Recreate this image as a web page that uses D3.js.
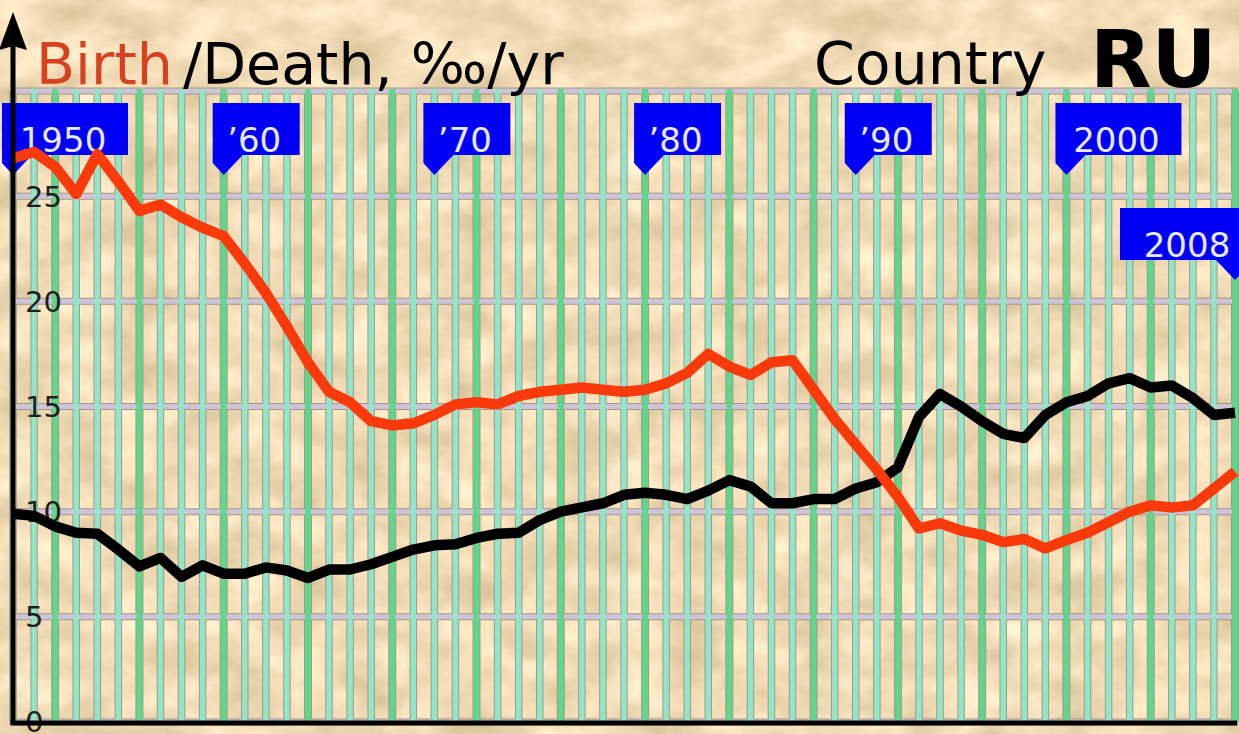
<!DOCTYPE html>
<html>
<head>
<meta charset="utf-8">
<script src="https://cdn.jsdelivr.net/npm/d3@7"></script>
<style>
  html, body { margin: 0; padding: 0; background: #f0dcb4; overflow: hidden; }
  svg { display: block; font-family: "DejaVu Sans", sans-serif; }
</style>
</head>
<body>
<svg id="chart" width="1239" height="734"></svg>
<script>
// Russia: crude birth and death rates, per 1000 population per year
const years = d3.range(1950, 2009);
const birthRate = [
  26.8, 27.1, 26.4, 25.1, 27.0, 25.7, 24.3, 24.6, 24.0, 23.5,
  23.1, 21.8, 20.4, 18.8, 17.1, 15.7, 15.2, 14.3, 14.1, 14.2,
  14.6, 15.1, 15.2, 15.1, 15.5, 15.7, 15.8, 15.9, 15.8, 15.7,
  15.8, 16.1, 16.6, 17.5, 16.9, 16.5, 17.1, 17.2, 15.8, 14.4,
  13.2, 12.0, 10.7, 9.2, 9.45, 9.1, 8.9, 8.55, 8.7, 8.25,
  8.65, 9.0, 9.5, 10.0, 10.3, 10.2, 10.3, 11.1, 11.9
];
const deathRate = [
  9.9, 9.8, 9.3, 9.0, 8.95, 8.2, 7.4, 7.8, 6.9, 7.45,
  7.05, 7.05, 7.35, 7.2, 6.85, 7.25, 7.25, 7.5, 7.85, 8.2,
  8.4, 8.45, 8.75, 8.95, 9.0, 9.6, 10.0, 10.2, 10.4, 10.8,
  10.9, 10.8, 10.6, 11.0, 11.5, 11.2, 10.4, 10.4, 10.6, 10.6,
  11.1, 11.4, 12.1, 14.5, 15.6, 15.0, 14.3, 13.7, 13.5, 14.6,
  15.2, 15.5, 16.1, 16.35, 15.9, 16.0, 15.4, 14.6, 14.7
];
const yTicks = [0, 5, 10, 15, 20, 25];
const yGrid = [0, 5, 10, 15, 20, 25, 30];
const flagYears = [1950, 1960, 1970, 1980, 1990, 2000];
const flagLabels = ["1950", "\u201960", "\u201970", "\u201980", "\u201990", "2000"];
const lastYear = 2008;
const lastLabel = "2008";
const countryCode = "RU";

const svg = d3.select("#chart");
const W = 1239, H = 734;

const x = d3.scaleLinear().domain([1950, 2008]).range([13, 1235]);
const y = d3.scaleLinear().domain([0, 30]).range([722, 91]);

// parchment background
const defs = svg.append("defs");
const paper = defs.append("filter").attr("id", "paper")
  .attr("x", 0).attr("y", 0).attr("width", "100%").attr("height", "100%")
  .attr("color-interpolation-filters", "sRGB");
paper.append("feTurbulence").attr("type", "fractalNoise")
  .attr("baseFrequency", "0.018 0.028").attr("numOctaves", 5).attr("seed", 11).attr("result", "n");
paper.append("feColorMatrix").attr("in", "n").attr("type", "matrix")
  .attr("values", [
    "0.26 0 0 0 0.82",
    "0.26 0 0 0 0.735",
    "0.30 0 0 0 0.57",
    "0 0 0 0 1"
  ].join(" "));
svg.append("rect").attr("width", W).attr("height", H).attr("filter", "url(#paper)");

// grid
const grid = svg.append("g");
grid.selectAll("line.vedge").data(years).join("line")
  .attr("x1", d => x(d)).attr("x2", d => x(d)).attr("y1", y(30)).attr("y2", y(0))
  .attr("stroke", "#a49884").attr("stroke-width", d => d % 4 === 0 ? 8 : 7.5);
grid.selectAll("line.hedge").data(yGrid).join("line")
  .attr("x1", x(1950)).attr("x2", x(2008) + 3).attr("y1", d => y(d)).attr("y2", d => y(d))
  .attr("stroke", "#a49884").attr("stroke-width", 7);
grid.selectAll("line.h").data(yGrid).join("line")
  .attr("x1", x(1950)).attr("x2", x(2008) + 2).attr("y1", d => y(d)).attr("y2", d => y(d))
  .attr("stroke", "#cdc4d8").attr("stroke-width", 5);
grid.selectAll("line.v").data(years).join("line")
  .attr("x1", d => x(d)).attr("x2", d => x(d)).attr("y1", y(30) - 2).attr("y2", y(0))
  .attr("stroke", d => d % 4 === 0 ? "#5ed68c" : "#90e6c8")
  .attr("stroke-width", d => d % 4 === 0 ? 6 : 5.5);

// y tick labels
svg.append("g").selectAll("text").data(yTicks).join("text")
  .attr("x", 25).attr("y", d => y(d)).attr("dy", "0.36em")
  .attr("font-size", 29).attr("fill", "#1e1e1e").text(d => d);

// year flags
const flags = svg.append("g");
flagYears.forEach((yr, i) => {
  const g = flags.append("g");
  const x0 = x(yr);
  const t = g.append("text").attr("font-size", 34).attr("fill", "#e8e8ff").text(flagLabels[i]);
  const len = t.node().getComputedTextLength();
  const w = Math.round(len * 1.2 + 22);
  const left = x0 - 11, top = 103, bot = 155;
  g.insert("path", "text")
    .attr("d", `M${left},${top}H${left + w}V${bot}H${x0 + 19}L${x0},${bot + 20}L${left},${bot + 8}Z`)
    .attr("fill", "#0000f6");
  t.attr("x", left + w / 2 - 2).attr("y", 152).attr("text-anchor", "middle");
});
{
  const g = flags.append("g");
  const x0 = x(lastYear);
  const t = g.append("text").attr("font-size", 34).attr("fill", "#e8e8ff").text(lastLabel);
  const len = t.node().getComputedTextLength();
  const w = Math.round(len * 1.2 + 22);
  const right = x0 + 11, top = 208, bot = 260;
  g.insert("path", "text")
    .attr("d", `M${right},${top}H${right - w}V${bot}H${x0 - 19}L${x0},${bot + 20}L${right},${bot + 8}Z`)
    .attr("fill", "#0000f6");
  t.attr("x", right - w / 2 + 4).attr("y", 257).attr("text-anchor", "middle");
}

// series lines
const line = d3.line().x((d, i) => x(years[i])).y(d => y(d)).curve(d3.curveLinear);
svg.append("path").datum(deathRate).attr("d", line)
  .attr("fill", "none").attr("stroke", "#000").attr("stroke-width", 10.5)
  .attr("stroke-linejoin", "round").attr("stroke-linecap", "butt");
svg.append("path").datum(birthRate).attr("d", line)
  .attr("fill", "none").attr("stroke", "#fb3a0c").attr("stroke-width", 10.5)
  .attr("stroke-linejoin", "round").attr("stroke-linecap", "butt");

// axes
svg.append("line").attr("x1", 13).attr("x2", 13).attr("y1", 40).attr("y2", 725)
  .attr("stroke", "#000").attr("stroke-width", 5);
svg.append("path").attr("d", "M13,12L27,50L13,46L-1,50Z").attr("fill", "#000");
svg.append("line").attr("x1", 10.5).attr("x2", x(2008) + 2).attr("y1", 723).attr("y2", 723)
  .attr("stroke", "#000").attr("stroke-width", 5);

// titles
const title = svg.append("text").attr("x", 36).attr("y", 84).attr("font-size", 57);
title.append("tspan").attr("fill", "#d8411f").text("Birth");
title.append("tspan").attr("x", 183).attr("fill", "#000").text("/Death, \u2030/yr");
svg.append("text").attr("x", 814).attr("y", 84).attr("font-size", 58.5).attr("fill", "#000").text("Country");
svg.append("text").attr("x", 1090).attr("y", 87).attr("font-size", 80).attr("font-weight", "bold")
  .attr("fill", "#000").text(countryCode);
</script>
</body>
</html>
